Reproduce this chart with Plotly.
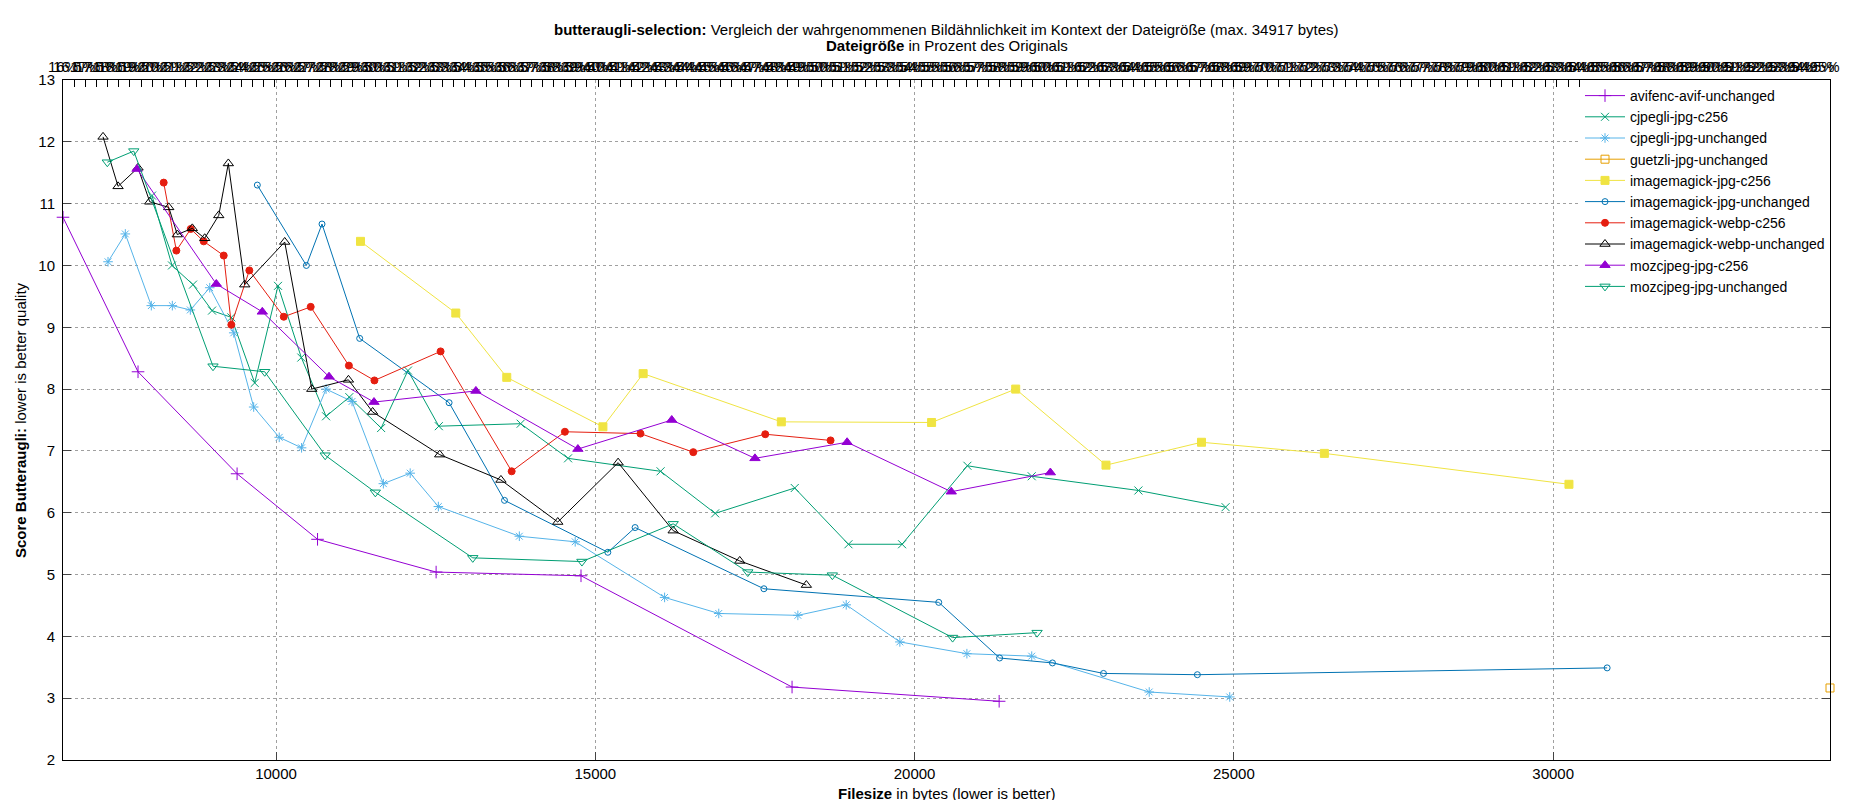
import numpy as np
import plotly.graph_objects as go

# file size (bytes) and butteraugli score per encoder
avif_x = [6664, 7839, 9390, 10650, 12507, 14776, 18081, 21324]
avif_y = [10.78, 8.28, 6.63, 5.57, 5.04, 4.98, 3.18, 2.95]

cjpegli_c256_x = [8058, 8371, 8700, 8998, 9300, 9666, 10031, 10396, 10784, 11148, 11646, 12066,
                  12549, 13831, 14573, 16022, 16877, 18123, 18964, 19804, 20827, 21834, 23505, 24870]
cjpegli_c256_y = [11.13, 10.0, 9.69, 9.27, 9.16, 8.10, 9.67, 8.51, 7.56, 7.87, 7.37, 8.30,
                  7.40, 7.44, 6.88, 6.67, 5.99, 6.40, 5.49, 5.49, 6.76, 6.59, 6.36, 6.09]

cjpegli_unch_x = [7369, 7640, 8047, 8376, 8658, 8962, 9338, 9650, 10050, 10400, 10784, 11190, 11681,
                  12101, 12542, 13810, 14685, 16085, 16933, 18172, 18929, 19769, 20819, 21834, 23674, 24935]
cjpegli_unch_y = [10.06, 10.51, 9.35, 9.35, 9.28, 9.64, 8.91, 7.71, 7.22, 7.05, 8.00, 7.80, 6.47,
                  6.64, 6.10, 5.62, 5.53, 4.63, 4.37, 4.34, 4.51, 3.91, 3.72, 3.68, 3.10, 3.02]

guetzli_x = [34335]
guetzli_y = [3.165]

im_jpg_c256_x = [11323, 12815, 13613, 15119, 15749, 17913, 20266, 21583, 22997, 24493, 26417, 30247]
im_jpg_c256_y = [10.39, 9.23, 8.19, 7.39, 8.25, 7.47, 7.46, 8.00, 6.77, 7.14, 6.96, 6.46]

im_jpg_unch_x = [9707, 10475, 10720, 11310, 12710, 13578, 15196, 15623, 17640, 20378, 21331, 22159,
                 22958, 24428, 30845]
im_jpg_unch_y = [11.30, 10.0, 10.67, 8.82, 7.78, 6.20, 5.36, 5.76, 4.77, 4.55, 3.65, 3.57,
                 3.40, 3.38, 3.49]

im_webp_c256_x = [8241, 8439, 8664, 8868, 9181, 9300, 9582, 10121, 10543, 11141, 11541, 12577,
                  13690, 14524, 15707, 16534, 17661, 18684]
im_webp_c256_y = [11.34, 10.24, 10.59, 10.39, 10.16, 9.04, 9.92, 9.17, 9.33, 8.38, 8.14, 8.61,
                  6.67, 7.31, 7.28, 6.98, 7.27, 7.17]

im_webp_unch_x = [7291, 7526, 7839, 8022, 8320, 8454, 8689, 8883, 9103, 9253, 9510, 10136, 10560,
                  11134, 11513, 12563, 13522, 14412, 15357, 16219, 17262, 18305]
im_webp_unch_y = [12.08, 11.28, 11.58, 11.03, 10.94, 10.50, 10.60, 10.44, 10.81, 11.65, 9.69, 10.38, 8.00,
                  8.15, 7.63, 6.94, 6.53, 5.85, 6.81, 5.71, 5.22, 4.83]

moz_c256_x = [7823, 9065, 9785, 10830, 11534, 13130, 14727, 16197, 17500, 18943, 20574, 22126]
moz_c256_y = [11.56, 9.70, 9.25, 8.20, 7.79, 7.97, 7.03, 7.50, 6.88, 7.14, 6.34, 6.65]

moz_unch_x = [7358, 7772, 9013, 9823, 10770, 11555, 13081, 14790, 16219, 17388, 18712, 20595, 21918]
moz_unch_y = [11.67, 11.85, 8.37, 8.28, 6.93, 6.33, 5.27, 5.21, 5.82, 5.04, 4.99, 3.98, 4.06]

# axis settings
x_min, x_max = 6664, 34335
orig_size = 34917
# top axis: percent labels every half percent (they pile up, as in the original)
pct_start = 16.0
pct_ticks = np.arange(pct_start, pct_start + (x_max - x_min) / orig_size * 100, 0.5)
pct_labels = [f"{p:g}%" for p in pct_ticks]
pct_pos = x_min + (pct_ticks - pct_start) * orig_size / 100

FONT = "Liberation Sans, Arial, sans-serif"

series = [
    ("avifenc-avif-unchanged", avif_x, avif_y, "#9400d3", "cross-thin", 9),
    ("cjpegli-jpg-c256", cjpegli_c256_x, cjpegli_c256_y, "#009e73", "x-thin", 8),
    ("cjpegli-jpg-unchanged", cjpegli_unch_x, cjpegli_unch_y, "#56b4e9", "asterisk", 8),
    ("guetzli-jpg-unchanged", guetzli_x, guetzli_y, "#e69f00", "square-open", 8),
    ("imagemagick-jpg-c256", im_jpg_c256_x, im_jpg_c256_y, "#f0e442", "square", 8),
    ("imagemagick-jpg-unchanged", im_jpg_unch_x, im_jpg_unch_y, "#0072b2", "circle-open", 6),
    ("imagemagick-webp-c256", im_webp_c256_x, im_webp_c256_y, "#e51e10", "circle", 7),
    ("imagemagick-webp-unchanged", im_webp_unch_x, im_webp_unch_y, "#000000", "triangle-up-open", 9),
    ("mozcjpeg-jpg-c256", moz_c256_x, moz_c256_y, "#9400d3", "triangle-up", 9),
    ("mozcjpeg-jpg-unchanged", moz_unch_x, moz_unch_y, "#009e73", "triangle-down-open", 9),
]

fig = go.Figure()
for name, xs, ys, col, sym, sz in series:
    # guetzli sits on the top-axis copy (same byte range) so x2 gets drawn
    xa = "x2" if name.startswith("guetzli") else "x"
    fig.add_trace(go.Scatter(
        x=xs, y=ys, name=name, mode="lines+markers", xaxis=xa,
        line=dict(color=col, width=1),
        marker=dict(symbol=sym, size=sz, color=col, line=dict(color=col, width=1)),
        cliponaxis=False,
    ))

fig.update_layout(
    width=1850, height=800,
    margin=dict(l=55, r=28, t=72, b=48),
    paper_bgcolor="white", plot_bgcolor="white",
    font=dict(family=FONT, size=15, color="black"),
    showlegend=True,
    legend=dict(x=1, y=1, xanchor="right", yanchor="top", bgcolor="white",
                borderwidth=0, font=dict(size=14), tracegroupgap=0, itemwidth=40),
    xaxis=dict(range=[x_min, x_max], tick0=0, dtick=5000, tickformat="d",
               ticks="inside", ticklen=8,
               showline=True, linecolor="black", linewidth=1, mirror=True,
               showgrid=True, gridcolor="#a0a0a0", griddash="3px,3px", gridwidth=1,
               zeroline=False, tickfont=dict(size=15)),
    xaxis2=dict(overlaying="x", side="top", anchor="y", range=[x_min, x_max],
                tickmode="array", tickvals=pct_pos, ticktext=pct_labels, tickangle=0,
                ticks="inside", ticklen=7, tickcolor="black", showgrid=False,
                zeroline=False, showline=False, ticklabelstandoff=4,
                tickfont=dict(size=15)),
    yaxis=dict(range=[2, 13], tick0=0, dtick=1, ticks="inside", ticklen=8,
               showline=True, linecolor="black", linewidth=1, mirror="ticks",
               showgrid=True, gridcolor="#a0a0a0", griddash="3px,3px", gridwidth=1,
               zeroline=False, ticklabelstandoff=4, tickfont=dict(size=15)),
)

fig.add_annotation(
    text="<b>butteraugli-selection:</b> Vergleich der wahrgenommenen Bildähnlichkeit im Kontext der Dateigröße (max. 34917 bytes)",
    xref="paper", yref="paper", x=0.5, y=1, yshift=51, yanchor="middle",
    showarrow=False, font=dict(size=15))
fig.add_annotation(
    text="<b>Dateigröße</b> in Prozent des Originals",
    xref="paper", yref="paper", x=0.5, y=1, yshift=35, yanchor="middle",
    showarrow=False, font=dict(size=15))
fig.add_annotation(
    text="<b>Filesize</b> in bytes (lower is better)",
    xref="paper", yref="paper", x=0.5, y=0, yshift=-33, yanchor="middle",
    showarrow=False, font=dict(size=15))
fig.add_annotation(
    text="<b>Score Butteraugli:</b> lower is better quality",
    xref="paper", yref="paper", x=0, y=0.5, xshift=-43, xanchor="center",
    textangle=-90, showarrow=False, font=dict(size=15))

fig.write_html("out.html")
